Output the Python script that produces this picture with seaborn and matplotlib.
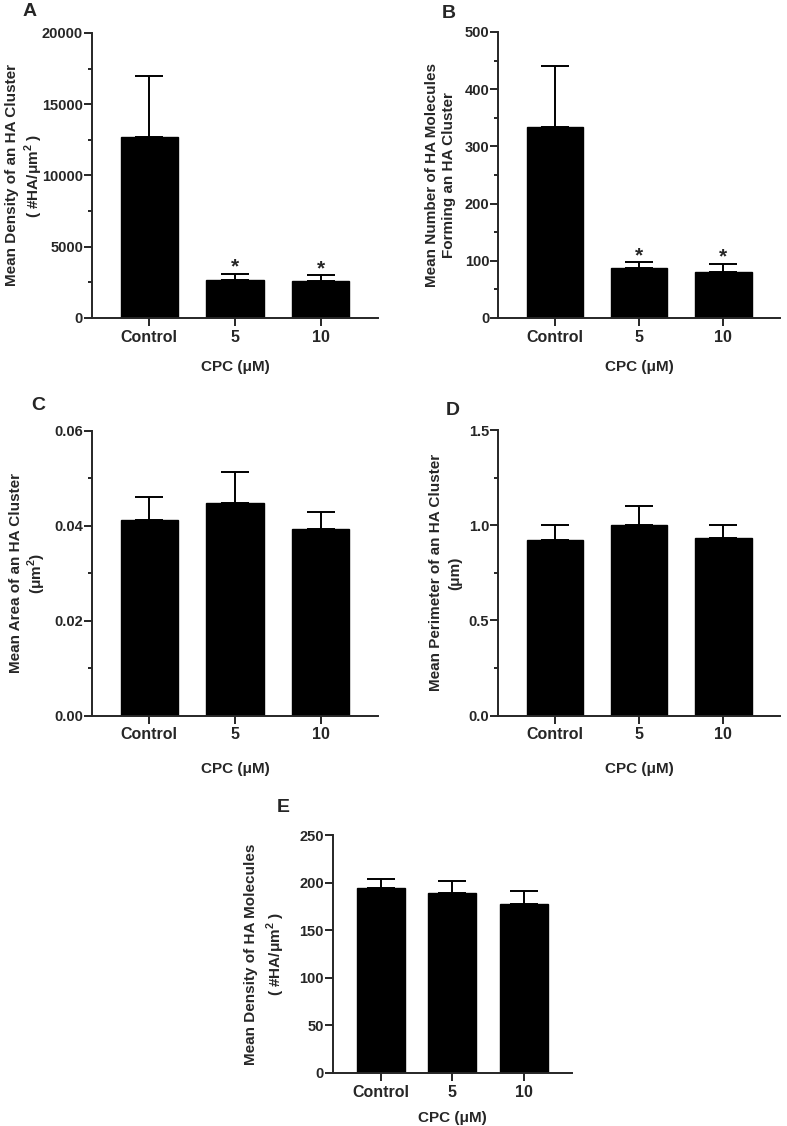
import numpy as np
import seaborn as sns
import matplotlib.pyplot as plt
from matplotlib.ticker import AutoMinorLocator

# groups on the x axis
groups = ["Control", "5", "10"]

# A: mean density of an HA cluster
cluster_density = [12700, 2670, 2620]
cluster_density_err = [4300, 430, 380]
# B: number of HA molecules per cluster
cluster_count = [334, 88, 81]
cluster_count_err = [106, 9, 14]
# C: cluster area
cluster_area = [0.0413, 0.0447, 0.0393]
cluster_area_err = [0.0048, 0.0067, 0.0035]
# D: cluster perimeter
cluster_perim = [0.921, 0.999, 0.933]
cluster_perim_err = [0.080, 0.100, 0.067]
# E: density of HA molecules
ha_density = [195, 189, 178]
ha_density_err = [9, 13, 13]

# which groups got a significance star
stars_A = [False, True, True]
stars_B = [False, True, True]

sns.set_style("ticks")
plt.rcParams["font.family"] = ["Liberation Sans", "DejaVu Sans"]
plt.rcParams["font.weight"] = "bold"
plt.rcParams["axes.labelweight"] = "bold"
plt.rcParams["axes.linewidth"] = 1.4
plt.rcParams["mathtext.fontset"] = "custom"
plt.rcParams["mathtext.rm"] = "Liberation Sans:bold"
plt.rcParams["mathtext.bf"] = "Liberation Sans:bold"


def draw_panel(ax, means, errs, ylabel, ymax, ystep, fmt, stars=None, minor=True,
               labelpad=11, ylabel_x=-0.18, linespacing=1.25):
    sns.barplot(x=groups, y=means, color="black", saturation=1, width=0.67,
                errorbar=None, edgecolor="black", ax=ax, zorder=2)
    ax.errorbar(range(len(groups)), means, yerr=[np.zeros(len(errs)), errs],
                fmt="none", ecolor="black", elinewidth=1.4, capsize=10, capthick=1.4, zorder=1)
    ax.set_xlim(-0.67, 2.67)
    ax.set_ylim(0, ymax)
    ticks = np.arange(0, ymax + ystep / 2, ystep)
    ax.set_yticks(ticks)
    ax.set_yticklabels([fmt.format(t) for t in ticks])
    if minor:
        ax.yaxis.set_minor_locator(AutoMinorLocator(2))
    ax.tick_params(axis="y", which="major", length=5.5, width=1.4, pad=1, labelsize=10.5)
    ax.tick_params(axis="y", which="minor", length=3, width=1.4)
    ax.tick_params(axis="x", length=6, width=1.4, pad=2.5, labelsize=11.5)
    sns.despine(ax=ax)
    ax.set_ylabel(ylabel, fontsize=11, linespacing=linespacing)
    ax.yaxis.set_label_coords(ylabel_x, 0.5)
    ax.set_xlabel("CPC (μM)", fontsize=11, labelpad=labelpad)
    if stars:
        for i, s in enumerate(stars):
            if s:
                ax.annotate("*", (i, means[i] + errs[i]), xytext=(0, -2),
                            textcoords="offset points", ha="center", va="bottom",
                            fontsize=15, fontweight="bold")


fig = plt.figure(figsize=(7.87, 11.26), dpi=100)

axA = fig.add_axes([0.1169, 0.7176, 0.3634, 0.2531])
axB = fig.add_axes([0.6332, 0.7176, 0.3577, 0.2540])
axC = fig.add_axes([0.1169, 0.3644, 0.3634, 0.2531])
axD = fig.add_axes([0.6332, 0.3644, 0.3577, 0.2537])
axE = fig.add_axes([0.4231, 0.0473, 0.3033, 0.2108])

draw_panel(axA, cluster_density, cluster_density_err,
           "Mean Density of an HA Cluster\n( #HA/μm$^{2}$ )", 20000, 5000, "{:.0f}",
           stars=stars_A, labelpad=11, ylabel_x=-0.163, linespacing=1.28)
draw_panel(axB, cluster_count, cluster_count_err,
           "Mean Number of HA Molecules\nForming an HA Cluster", 500, 100, "{:.0f}",
           stars=stars_B, labelpad=11, ylabel_x=-0.152, linespacing=1.25)
draw_panel(axC, cluster_area, cluster_area_err,
           "Mean Area of an HA Cluster\n(μm$^{2}$)", 0.06, 0.02, "{:.2f}",
           labelpad=14, ylabel_x=-0.154, linespacing=1.16)
draw_panel(axD, cluster_perim, cluster_perim_err,
           "Mean Perimeter of an HA Cluster\n(μm)", 1.5, 0.5, "{:.1f}",
           labelpad=14, ylabel_x=-0.129, linespacing=1.45)
draw_panel(axE, ha_density, ha_density_err,
           "Mean Density of HA Molecules\n( #HA/μm$^{2}$ )", 250, 50, "{:.0f}",
           minor=False, labelpad=8, ylabel_x=-0.192, linespacing=1.44)

for letter, x, y in [("A", 0.038, 0.990), ("B", 0.5705, 0.9876),
                     ("C", 0.0483, 0.6403), ("D", 0.5756, 0.635), ("E", 0.3596, 0.2829)]:
    fig.text(x, y, letter, fontsize=14, fontweight="bold", ha="center", va="center")

fig.savefig("out.png", dpi=100)
